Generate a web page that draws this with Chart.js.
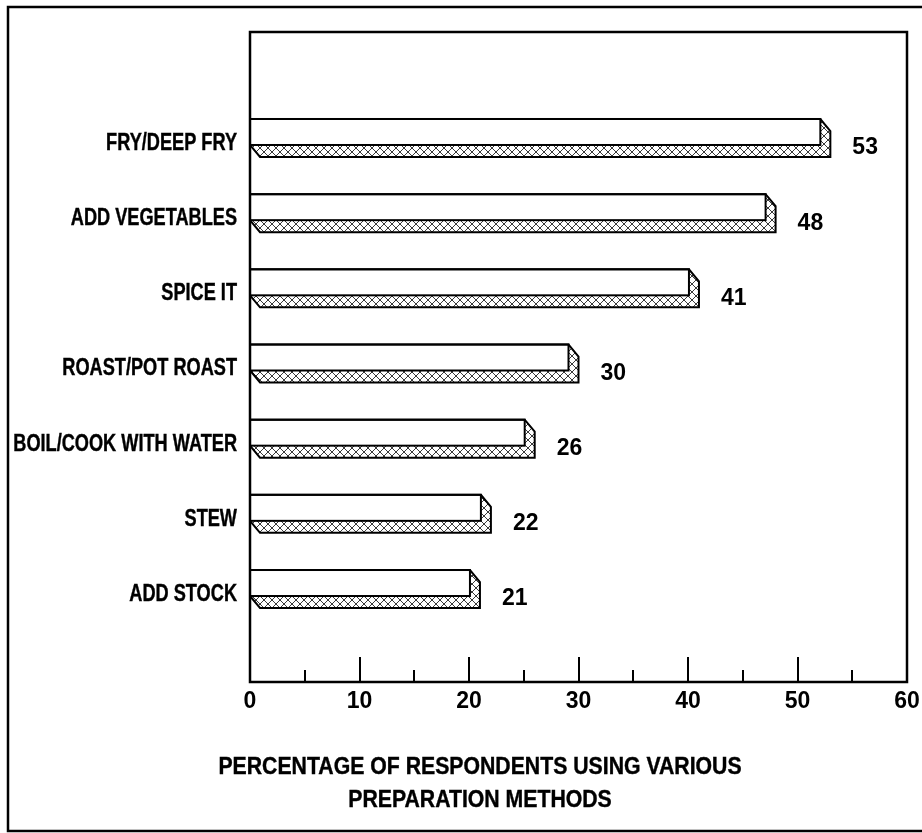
<!DOCTYPE html>
<html>
<head>
<meta charset="utf-8">
<title>Preparation methods</title>
<script src="https://cdn.jsdelivr.net/npm/chart.js@4.4.1/dist/chart.umd.min.js"></script>
<style>
  html, body { margin: 0; padding: 0; background: #fff; overflow: hidden; }
  #wrap { position: relative; width: 922px; height: 833px; }
</style>
</head>
<body>
<div id="wrap"><canvas id="chart"></canvas></div>
<script>
// Share of respondents (%) using each preparation method
const categories = [
  'FRY/DEEP FRY',
  'ADD VEGETABLES',
  'SPICE IT',
  'ROAST/POT ROAST',
  'BOIL/COOK WITH WATER',
  'STEW',
  'ADD STOCK'
];
const percentages = [53, 48, 41, 30, 26, 22, 21];
const axisTitle = ['PERCENTAGE OF RESPONDENTS USING VARIOUS', 'PREPARATION METHODS'];

const SANS = "'Liberation Sans', 'DejaVu Sans', sans-serif";

// cross-hatch tile for the shaded sides of the bars
function makeHatch() {
  const c = document.createElement('canvas');
  c.width = 8; c.height = 8;
  const g = c.getContext('2d');
  g.fillStyle = '#fff';
  g.fillRect(0, 0, 8, 8);
  g.strokeStyle = '#3a3a3a';
  g.lineWidth = 1;
  g.beginPath();
  for (let o = -8; o <= 8; o += 8) {
    g.moveTo(o, 0); g.lineTo(o + 8, 8);
    g.moveTo(o + 8, 0); g.lineTo(o, 8);
  }
  g.stroke();
  return c;
}

// condensed lettering
function narrowText(ctx, text, x, y, squeeze, align) {
  ctx.save();
  ctx.translate(x, y);
  ctx.scale(squeeze, 1);
  ctx.textAlign = align;
  ctx.textBaseline = 'middle';
  ctx.lineWidth = 0.4;
  ctx.strokeStyle = '#000';
  ctx.fillText(text, 0, 0);
  ctx.strokeText(text, 0, 0);
  ctx.restore();
}

const DEPTH_X = 10, DEPTH_Y = 12;

const framePlugin = {
  id: 'frames',
  beforeDraw(chart) {
    const ctx = chart.ctx;
    ctx.save();
    ctx.fillStyle = '#fff';
    ctx.fillRect(0, 0, chart.width, chart.height);
    ctx.restore();
  },
  afterDraw(chart) {
    const ctx = chart.ctx;
    const a = chart.chartArea;
    const xs = chart.scales.x;
    const ys = chart.scales.y;
    ctx.save();
    ctx.strokeStyle = '#000';
    // outer border of the figure
    ctx.lineWidth = 2.5;
    ctx.strokeRect(8, 7, chart.width + 10, chart.height - 9);
    // plot frame
    ctx.strokeRect(a.left, a.top, a.right - a.left, a.bottom - a.top);
    // inward tick marks along the value axis
    ctx.lineWidth = 2;
    ctx.beginPath();
    xs.ticks.forEach(t => {
      if (t.value <= xs.min || t.value >= xs.max) return;
      const px = Math.round(xs.getPixelForValue(t.value));
      const len = t.value % 10 === 0 ? 25 : 12;
      ctx.moveTo(px, a.bottom);
      ctx.lineTo(px, a.bottom - len);
    });
    ctx.stroke();

    // category labels
    ctx.fillStyle = '#000';
    ctx.font = 'bold 23px ' + SANS;
    categories.forEach((label, i) => {
      const py = ys.getPixelForValue(i) + 5.5;
      narrowText(ctx, label, a.left - 13, py, 0.79, 'right');
    });

    // axis title, two lines
    ctx.font = 'bold 24px ' + SANS;
    narrowText(ctx, axisTitle[0], 480, 767.5, 0.885, 'center');
    narrowText(ctx, axisTitle[1], 480, 800, 0.885, 'center');
    ctx.restore();
  }
};

const barPlugin = {
  id: 'bars3d',
  afterDatasetsDraw(chart) {
    const ctx = chart.ctx;
    const meta = chart.getDatasetMeta(0);
    const pattern = ctx.createPattern(makeHatch(), 'repeat');
    ctx.save();
    meta.data.forEach((el, i) => {
      const p = el.getProps(['x', 'y', 'base', 'height'], true);
      const b = p.base, H = p.height;
      const xv = p.x - DEPTH_X;          // front face; the extrusion reaches the value
      const t = p.y - H / 2;
      // extruded outline (shaded side and bottom)
      ctx.beginPath();
      ctx.moveTo(b, t);
      ctx.lineTo(xv, t);
      ctx.lineTo(xv + DEPTH_X, t + DEPTH_Y);
      ctx.lineTo(xv + DEPTH_X, t + H);
      ctx.lineTo(b + DEPTH_X, t + H);
      ctx.lineTo(b, t + H - DEPTH_Y);
      ctx.closePath();
      ctx.fillStyle = pattern;
      ctx.fill();
      // front face
      ctx.fillStyle = '#fff';
      ctx.fillRect(b, t, xv - b, H - DEPTH_Y);
      ctx.strokeStyle = '#000';
      ctx.lineWidth = 2;
      ctx.lineJoin = 'miter';
      ctx.stroke();
      ctx.strokeRect(b, t, xv - b, H - DEPTH_Y);
      // value label
      ctx.fillStyle = '#000';
      ctx.font = 'bold 23px ' + SANS;
      ctx.textAlign = 'left';
      ctx.textBaseline = 'middle';
      ctx.fillText(String(percentages[i]), p.x + 22, p.y + 10);
    });
    ctx.restore();
  }
};

new Chart(document.getElementById('chart'), {
  type: 'bar',
  data: {
    datasets: [{
      data: percentages.map((v, i) => ({ x: v, y: i })),
      backgroundColor: 'rgba(0,0,0,0)',
      borderWidth: 0,
      barThickness: 38
    }]
  },
  options: {
    indexAxis: 'y',
    responsive: true,
    maintainAspectRatio: false,
    animation: false,
    layout: { padding: { left: 0, right: 15, top: 32, bottom: 111 } },
    plugins: {
      legend: { display: false },
      tooltip: { enabled: false },
      title: { display: false }
    },
    scales: {
      x: {
        type: 'linear',
        min: 0,
        max: 60,
        grid: { display: false, drawTicks: false },
        border: { display: false },
        ticks: {
          stepSize: 5,
          autoSkip: false,
          maxRotation: 0,
          padding: 6,
          color: '#000',
          font: { family: SANS, size: 23, weight: 'bold' },
          callback: v => (v % 10 === 0 ? String(v) : '')
        },
        afterFit: s => { s.height = 40; s.paddingLeft = 0; s.paddingRight = 0; }
      },
      y: {
        type: 'linear',
        reverse: true,
        offset: false,
        min: -1.41,
        max: 7.237,
        grid: { display: false, drawTicks: false },
        border: { display: false },
        afterBuildTicks: s => { s.ticks = categories.map((_, i) => ({ value: i })); },
        ticks: { display: false },
        afterFit: s => { s.width = 250; s.paddingTop = 0; s.paddingBottom = 0; }
      }
    }
  },
  plugins: [framePlugin, barPlugin]
});
</script>
</body>
</html>
